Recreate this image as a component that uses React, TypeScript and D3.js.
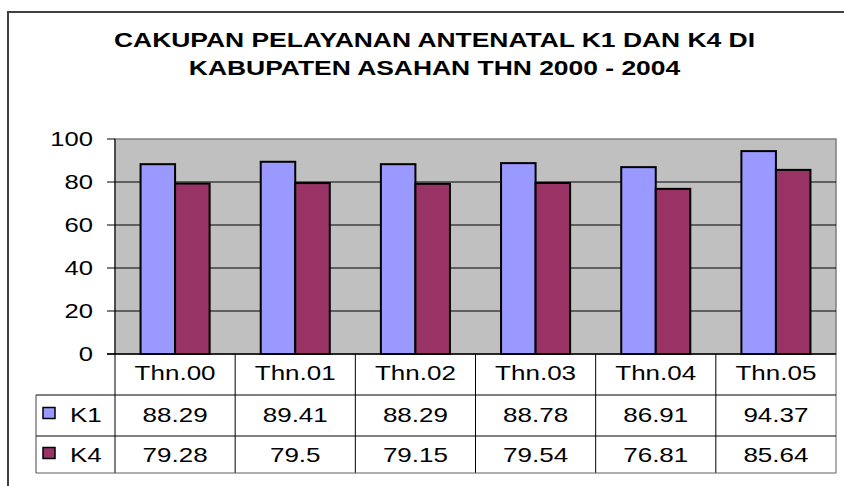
import React from 'react';
import * as d3 from 'd3';

const categories = ['Thn.00', 'Thn.01', 'Thn.02', 'Thn.03', 'Thn.04', 'Thn.05'];
const k1Values = [88.29, 89.41, 88.29, 88.78, 86.91, 94.37];
const k4Values = [79.28, 79.5, 79.15, 79.54, 76.81, 85.64];
const seriesNames = ['K1', 'K4'];
const seriesColors = ['#9999FF', '#993366'];
const yTicks = [0, 20, 40, 60, 80, 100];
const titleLines = [
  'CAKUPAN PELAYANAN ANTENATAL K1 DAN K4 DI',
  'KABUPATEN ASAHAN THN 2000 - 2004',
];

const W = 844;
const H = 486;
const SX = 1.3;
const FONT = 'Liberation Sans, Arial, sans-serif';

const plot = { left: 115, right: 836, top: 139, bottom: 354 };
const rowLines = [395, 436, 473];
const tableLeft = 36;

function SText(props: {
  x: number; y: number; text: string; anchor?: string; size?: number; bold?: boolean; sx?: number;
}) {
  const { x, y, text, anchor = 'middle', size = 20, bold = false, sx = SX } = props;
  return (
    <text
      transform={`translate(${x},${y}) scale(${sx},1)`}
      textAnchor={anchor}
      fontFamily={FONT}
      fontSize={size}
      fontWeight={bold ? 'bold' : 'normal'}
      fill="#000"
    >
      {text}
    </text>
  );
}

export default function App() {
  const series = [k1Values, k4Values];
  const x0 = d3.scaleBand<string>().domain(categories).range([plot.left, plot.right]).padding(0);
  const x1 = d3
    .scaleBand<string>()
    .domain(seriesNames)
    .range([0, x0.bandwidth()])
    .paddingInner(0)
    .paddingOuter(0.74);
  const y = d3.scaleLinear().domain([0, 100]).range([plot.bottom, plot.top]);

  const colEdges = [...categories.map((c) => x0(c) as number), plot.right];
  const rowTexts = [380, 422, 462];

  return (
    <svg
      width={W}
      height={H}
      style={{ position: 'absolute', left: 0, top: 0, display: 'block', background: '#fff' }}
    >
      <rect x={0} y={0} width={W} height={H} fill="#fff" />
      {/* outer frame */}
      <rect x={8} y={12} width={900} height={600} fill="none" stroke="#404040" strokeWidth={2} />

      {/* title */}
      {titleLines.map((t, i) => (
        <SText key={i} x={434.5} y={46.5 + i * 28.5} text={t} bold size={20.5} sx={1.29} />
      ))}

      {/* plot area */}
      <rect
        x={plot.left}
        y={plot.top}
        width={plot.right - plot.left}
        height={plot.bottom - plot.top}
        fill="#C0C0C0"
        stroke="#808080"
        strokeWidth={1.5}
      />
      {yTicks
        .filter((t) => t > 0 && t < 100)
        .map((t) => (
          <line key={t} x1={plot.left} x2={plot.right} y1={y(t)} y2={y(t)} stroke="#000" strokeWidth={1} />
        ))}

      {/* bars */}
      {categories.map((c, i) => (
        <g key={c}>
          {seriesNames.map((s, j) => {
            const v = series[j][i];
            const bx = (x0(c) as number) + (x1(s) as number);
            return (
              <rect
                key={s}
                x={bx}
                y={y(v)}
                width={x1.bandwidth()}
                height={y(0) - y(v)}
                fill={seriesColors[j]}
                stroke="#000"
                strokeWidth={2}
              />
            );
          })}
        </g>
      ))}

      {/* y axis */}
      <line x1={plot.left} x2={plot.left} y1={plot.top} y2={plot.bottom} stroke="#000" strokeWidth={1} />
      {yTicks.map((t) => (
        <g key={t}>
          <line x1={plot.left - 8} x2={plot.left} y1={y(t)} y2={y(t)} stroke="#000" strokeWidth={1} />
          <SText x={93} y={y(t) + 7} text={String(t)} anchor="end" sx={1.28} />
        </g>
      ))}
      <line x1={plot.left - 8} x2={plot.right} y1={y(0)} y2={y(0)} stroke="#000" strokeWidth={1.5} />

      {/* data table */}
      {colEdges.map((cx, i) => (
        <line
          key={i}
          x1={cx}
          x2={cx}
          y1={plot.bottom}
          y2={rowLines[2]}
          stroke={i === colEdges.length - 1 ? '#606060' : '#000'}
          strokeWidth={1}
        />
      ))}
      {rowLines.map((ry, i) => (
        <line
          key={i}
          x1={tableLeft}
          x2={plot.right}
          y1={ry}
          y2={ry}
          stroke={i === rowLines.length - 1 ? '#606060' : '#000'}
          strokeWidth={1}
        />
      ))}
      <line x1={tableLeft} x2={tableLeft} y1={rowLines[0]} y2={rowLines[2]} stroke="#404040" strokeWidth={1} />

      {categories.map((c) => (
        <SText key={c} x={(x0(c) as number) + x0.bandwidth() / 2} y={rowTexts[0]} text={c} />
      ))}
      {seriesNames.map((s, j) => (
        <g key={s}>
          <rect
            x={43}
            y={rowTexts[j + 1] - 9 - 5.5}
            width={12}
            height={11}
            fill={seriesColors[j]}
            stroke="#000"
            strokeWidth={1.5}
          />
          <SText x={70} y={rowTexts[j + 1]} text={s} anchor="start" />
          {categories.map((c, i) => (
            <SText
              key={c}
              x={(x0(c) as number) + x0.bandwidth() / 2}
              y={rowTexts[j + 1]}
              text={String(series[j][i])}
            />
          ))}
        </g>
      ))}
    </svg>
  );
}
